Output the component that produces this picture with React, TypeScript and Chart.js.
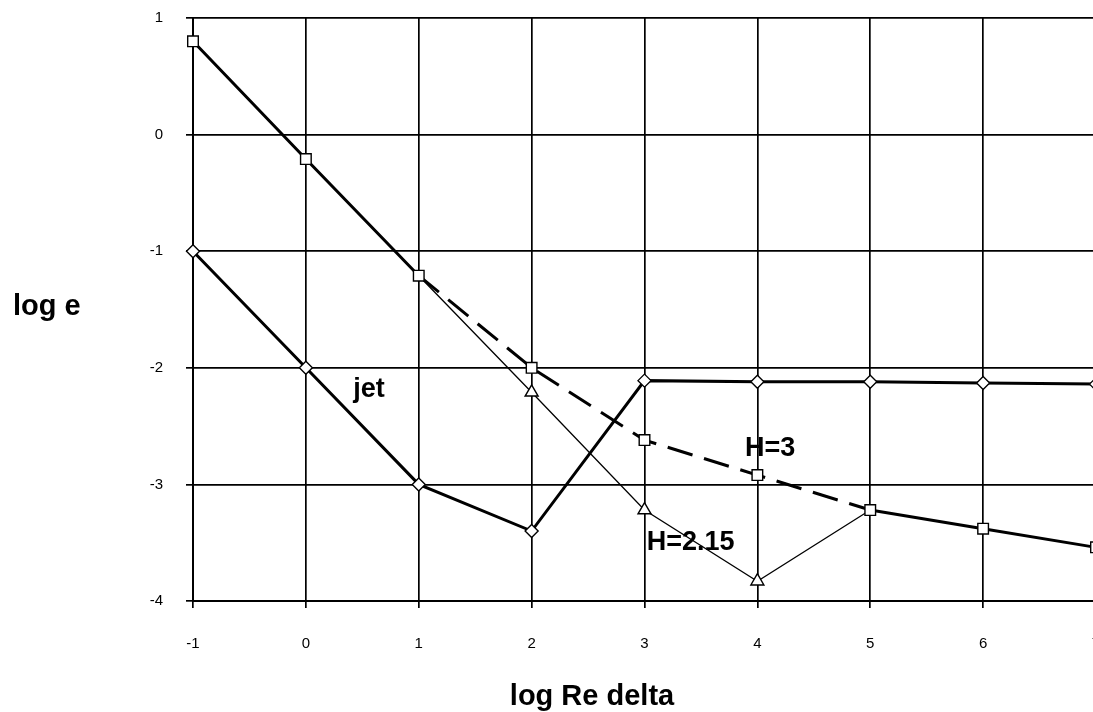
import React, { useEffect, useRef } from "react";
import { Chart, registerables } from "chart.js";

Chart.register(...registerables);

// ---- data ----
const xValues = [-1, 0, 1, 2, 3, 4, 5, 6, 7];
const jetValues = [-1, -2, -3, -3.4, -2.11, -2.12, -2.12, -2.13, -2.14];
const h3Values = [0.8, -0.21, -1.21, -2.0, -2.62, -2.92, -3.22, -3.38, -3.54];
const h215X = [1, 2, 3, 4, 5];
const h215Values = [-1.21, -2.21, -3.22, -3.83, -3.22];
const xTickValues = [-1, 0, 1, 2, 3, 4, 5, 6, 7];
const yTickValues = [-4, -3, -2, -1, 0, 1];
const annotationTexts = ["jet", "H=3", "H=2.15"];
const annotationX = [0.42, 3.89, 3.02];
const annotationY = [-2.247, -2.76, -3.56];
const xTitle = "log Re delta";
const yTitle = "log e";

const FONT = "'Liberation Sans', Arial, sans-serif";

const textPlugin = {
  id: "texts",
  afterDatasetsDraw(chart: any) {
    const { ctx, scales } = chart;
    ctx.save();
    ctx.fillStyle = "#000";
    ctx.textBaseline = "alphabetic";
    ctx.textAlign = "left";
    ctx.font = `bold 27px ${FONT}`;
    annotationTexts.forEach((t, i) => {
      ctx.fillText(
        t,
        scales.x.getPixelForValue(annotationX[i]),
        scales.y.getPixelForValue(annotationY[i])
      );
    });
    ctx.font = `bold 29px ${FONT}`;
    ctx.fillText(yTitle, 13, 315);
    ctx.textAlign = "center";
    ctx.fillText(xTitle, 592, 705);
    ctx.restore();
  },
};

const zeroPad = (s: any) => {
  s.paddingTop = 0;
  s.paddingBottom = 0;
  s.paddingLeft = 0;
  s.paddingRight = 0;
};

export default function App() {
  const ref = useRef<HTMLCanvasElement | null>(null);

  useEffect(() => {
    if (!ref.current) return;
    const pointBase = {
      pointBackgroundColor: "#fff",
      pointBorderColor: "#000",
      pointBorderWidth: 1.4,
      borderColor: "#000",
      backgroundColor: "#fff",
      clip: false,
    };
    const chart = new Chart(ref.current, {
      type: "line",
      data: {
        datasets: [
          {
            label: "jet",
            data: xValues.map((x, i) => ({ x, y: jetValues[i] })),
            borderWidth: 3,
            pointStyle: "rectRot",
            pointRadius: 6.5,
            ...pointBase,
          },
          {
            label: "H=3",
            data: xValues.map((x, i) => ({ x, y: h3Values[i] })),
            borderWidth: 3,
            pointStyle: "rect",
            pointRadius: 7.5,
            borderCapStyle: "butt",
            segment: {
              borderDash: (c: any) =>
                c.p0.parsed.x >= 1 && c.p1.parsed.x <= 5 ? [26, 12] : undefined,
            },
            ...pointBase,
          },
          {
            label: "H=2.15",
            data: h215X.map((x, i) => ({ x, y: h215Values[i] })),
            borderWidth: 1.3,
            pointStyle: "triangle",
            pointRadius: h215X.map((_, i) => (i === 0 || i === h215X.length - 1 ? 0 : 7.5)),
            ...pointBase,
          },
        ],
      },
      options: {
        animation: false,
        responsive: false,
        devicePixelRatio: 1,
        layout: { padding: { top: 18, right: 24, left: 0, bottom: 0 } },
        plugins: { legend: { display: false }, tooltip: { enabled: false } },
        elements: { line: { tension: 0 } },
        scales: {
          x: {
            type: "linear",
            min: -1,
            max: 7,
            afterBuildTicks: (s: any) => {
              s.ticks = xTickValues.map((v) => ({ value: v }));
            },
            afterFit: (s: any) => {
              s.height = 111;
              zeroPad(s);
            },
            ticks: {
              color: "#000",
              font: { family: FONT, size: 15 },
              padding: 27,
              maxRotation: 0,
              autoSkip: false,
            },
            grid: { color: "#000", lineWidth: 1.7, tickLength: 7 },
            border: { color: "#000", width: 2 },
          },
          y: {
            type: "linear",
            min: -4,
            max: 1,
            afterBuildTicks: (s: any) => {
              s.ticks = yTickValues.map((v) => ({ value: v }));
            },
            afterFit: (s: any) => {
              s.width = 193;
              zeroPad(s);
            },
            ticks: {
              color: "#000",
              font: { family: FONT, size: 15 },
              padding: 23,
              autoSkip: false,
            },
            grid: { color: "#000", lineWidth: 1.7, tickLength: 7 },
            border: { color: "#000", width: 2 },
          },
        },
      },
      plugins: [textPlugin],
    } as any);
    return () => chart.destroy();
  }, []);

  return (
    <div
      style={{
        position: "fixed",
        left: 0,
        top: 0,
        width: 1093,
        height: 712,
        overflow: "hidden",
        background: "#fff",
      }}
    >
      <canvas ref={ref} width={1120} height={712} style={{ display: "block" }} />
    </div>
  );
}
